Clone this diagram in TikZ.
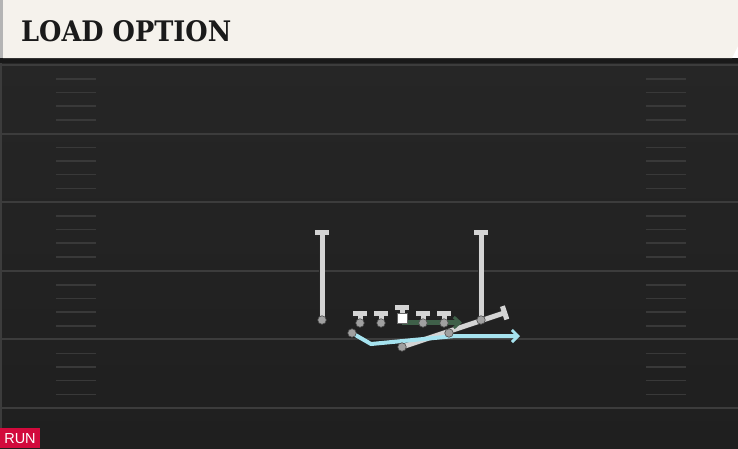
\documentclass[tikz,border=0pt]{standalone}
\usepackage{fontspec}
\setmainfont{Liberation Sans}
\newfontfamily\titlefont{DejaVu Serif}
\usetikzlibrary{arrows.meta}
\definecolor{fieldtop}{HTML}{262626}
\definecolor{fieldbot}{HTML}{1F1F1F}
\definecolor{yardc}{HTML}{3C3C3C}
\definecolor{hashc}{HTML}{393939}
\definecolor{headc}{HTML}{F5F2EC}
\definecolor{headedge}{HTML}{B4B4B4}
\definecolor{plgray}{HTML}{D4D4D4}
\definecolor{dotgray}{HTML}{A0A0A0}
\definecolor{runblue}{HTML}{A6E3EF}
\definecolor{blockgreen}{HTML}{3F6049}
\definecolor{runred}{HTML}{D20A3C}
\definecolor{titlec}{HTML}{1A1A1A}
\tikzset{
  yardline/.style={draw=yardc, line width=2pt},
  hashline/.style={draw=hashc, line width=1.5pt},
  route/.style={draw=plgray, line width=5pt, preaction={draw=black!85, line width=6.6pt}},
  tend/.style={-{Bar[width=14pt]}},
  dot/.style={circle, fill=dotgray, draw=black!70, line width=0.6pt, inner sep=0pt, minimum size=8.5pt},
  centersq/.style={rectangle, fill=white, draw=black!60, line width=0.5pt, inner sep=0pt, minimum size=9.5pt},
  bluepath/.style={draw=runblue, line width=4pt, line join=round, -{Straight Barb[length=6pt,width=12pt,line width=3pt]}},
  greenpath/.style={draw=blockgreen, line width=4.5pt, -{Straight Barb[length=6pt,width=11pt,line width=3pt]}},
}
\begin{document}
\begin{tikzpicture}[x=1pt,y=-1pt]
\useasboundingbox (0,0) rectangle (738,448);
% field
\shade[top color=fieldtop, bottom color=fieldbot] (0,58) rectangle (738,448);
\fill[black!90] (0,58) rectangle (738,63);
\draw[yardc, line width=1.5pt] (1,63) -- (1,448);
% yard lines and hash marks
\foreach \k in {0,...,5}{
  \pgfmathsetmacro{\yy}{65+68.6*\k}
  \draw[yardline] (0,\yy) -- (738,\yy);
}
\foreach \k in {0,...,4}{
  \foreach \d in {14,27.5,41,55}{
    \pgfmathsetmacro{\yy}{65+68.6*\k+\d}
    \draw[hashline] (56,\yy) -- (96,\yy);
    \draw[hashline] (646,\yy) -- (686,\yy);
  }
}
% header
\fill[headedge] (0,0) rectangle (3,58);
\fill[headc] (3,0) -- (738,0) -- (738,46) -- (732,58) -- (3,58) -- cycle;
\node[anchor=south west, inner sep=0pt, text=titlec] (title) at (21,42.5)
  {\resizebox{210pt}{21pt}{\titlefont\bfseries LOAD OPTION}};
% RUN tag
\fill[runred] (0,428) rectangle (40,448);
\node[text=white, font=\fontsize{14.5}{15}\selectfont, inner sep=0pt] (run) at (20,439) {RUN};
% coordinates
\coordinate (lwrT) at (322,230);
\coordinate (lwr) at (322,320);
\coordinate (rwrT) at (481,230);
\coordinate (rwr) at (481,320);
\coordinate (lgT) at (360,311);
\coordinate (lg) at (360,323);
\coordinate (ltT) at (381,311);
\coordinate (lt) at (381,323);
\coordinate (cT) at (402,305);
\coordinate (csq) at (402,318);
\coordinate (rgT) at (423,311);
\coordinate (rg) at (423,323);
\coordinate (rtT) at (444,311);
\coordinate (rt) at (444,323);
\coordinate (qb) at (402,347);
\coordinate (qbend) at (507,312);
\coordinate (mid) at (449,333);
\coordinate (rb) at (352,333);
\coordinate (b1) at (371,344);
\coordinate (b2) at (455,336);
\coordinate (bend) at (520,336);
\coordinate (gstart) at (402,322.5);
\coordinate (gend) at (462,322.5);
% receivers
\draw[route, tend] (lwr) -- (lwrT);
\draw[route, tend] (rwr) -- (rwrT);
% linemen stems
\foreach \a in {lg,lt,rg,rt}{
  \draw[route, tend] (\a) -- (\a T);
}
\draw[route, tend] (csq) -- (cT);
% QB path
\draw[route, tend] (qb) -- (qbend);
% green block arrow
\draw[greenpath] (gstart) -- (gend);
% blue run path
\draw[bluepath] (rb) -- (b1) -- (b2) -- (bend);
% dots
\node[dot] (n1) at (lwr) {};
\node[dot] (n2) at (rwr) {};
\node[dot] (n3) at (lg) {};
\node[dot] (n4) at (lt) {};
\node[dot] (n5) at (rg) {};
\node[dot] (n6) at (rt) {};
\node[dot] (n7) at (qb) {};
\node[dot] (n8) at (mid) {};
\node[dot] (n9) at (rb) {};
\node[centersq] (n10) at (csq) {};
\end{tikzpicture}
\end{document}
